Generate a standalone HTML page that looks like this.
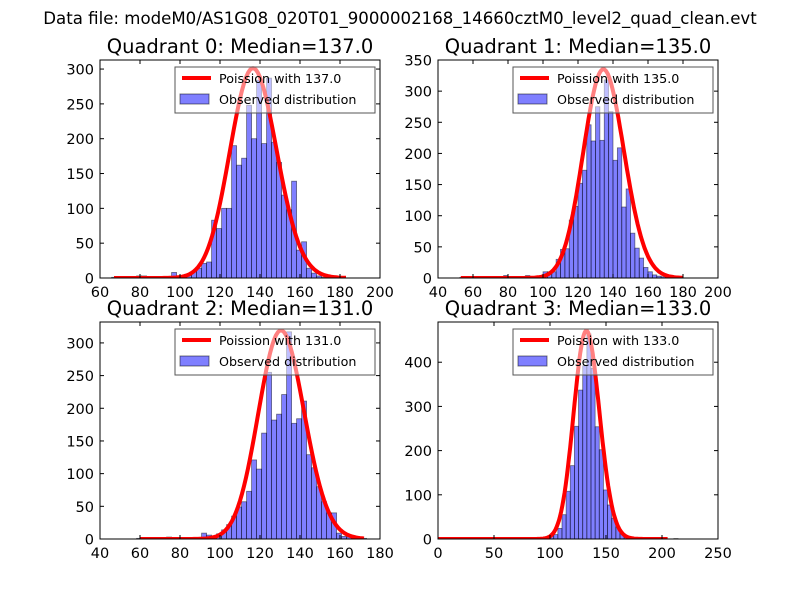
<!DOCTYPE html>
<html><head><meta charset="utf-8"><style>
html,body{margin:0;padding:0;background:#fff;}
svg{display:block;font-family:"DejaVu Sans","Liberation Sans",sans-serif;}
</style></head><body>
<svg id="fig" width="800" height="600" viewBox="0 0 800 600">
<rect width="800" height="600" fill="#fff"/>
<text x="400" y="24" font-size="16.6" text-anchor="middle">Data file: modeM0/AS1G08_020T01_9000002168_14660cztM0_level2_quad_clean.evt</text>
</svg>
<script>
const medians = [137, 135, 131, 133];
const binStarts = [65.8, 52.5, 58.3, 7.1];
const binWidths = [2.5, 2.5, 2.5, 3.7];
const q0Counts = [1,1,2,2,1,3,3,2,1,1,0,0,8,1,2,5, 9,14,21,23,83,71,100,100,190,162,172,248,200,284,193,287,195,166,119,98,139,40,52,14,7,3,1];
const q1Counts = [1,0,0,0,1,0,0,0,1,1,4,1,0,2,0,4,1,2,1,10,10, 10,30,46,47,93,115,152,173,246,220,275,221,318,267,189,209,114,143,72,48,32,17,10,5,3,2,5,1];
const q2Counts = [1,0,0,1,0,1,3,1,2,2,1,2,1,9,6,4,8,14,22, 35,49,57,73,121,107,162,255,182,191,221,317,177,184,211,129,109,80,57,40,40,9,4,3,1,1,1];
const q3Counts = [0,0,0,0,0,0,0,0,0,0,0,0,0,0,0,0,0,0,0,1,1,3,2,2,5,9,10, 24,55,108,166,255,337,392,464,386,254,202,111,77,47,27,13,5,2,1,1,0,0,0,0,0,0,0,0,1];
const curvePeaks = [301, 335, 319, 471];
const curveRanges = [[67,183],[53,180],[60,172],[0,205]];
const xTicks = [[60,80,100,120,140,160,180,200],[40,60,80,100,120,140,160,180,200],[40,60,80,100,120,140,160,180],[0,50,100,150,200,250]];
const yTicks = [[0,50,100,150,200,250,300],[0,50,100,150,200,250,300,350],[0,50,100,150,200,250,300],[0,100,200,300,400]];
const xLims = [[60,200],[40,200],[40,180],[0,250]];
const yLims = [[0,313],[0,350],[0,332],[0,491]];

const allCounts = [q0Counts, q1Counts, q2Counts, q3Counts];
const boxes = [[100,60,380,278],[438,60,718,278],[100,322,380,539],[438,322,718,539]];
const NS = "http://www.w3.org/2000/svg";
const svg = document.getElementById('fig');
function mk(tag, attrs, parent){const e=document.createElementNS(NS,tag);for(const k in attrs)e.setAttribute(k,attrs[k]);(parent||svg).appendChild(e);return e;}
function logFact(n){let s=0;for(let i=2;i<=n;i++)s+=Math.log(i);return s;}
function pmf(k,lam){return Math.exp(k*Math.log(lam)-lam-logFact(k));}

for(let q=0;q<4;q++){
  const [L,T,R,B]=boxes[q];
  const [xa,xb]=xLims[q], [ya,yb]=yLims[q];
  const sx=v=>L+(v-xa)/(xb-xa)*(R-L);
  const sy=v=>B-(v-ya)/(yb-ya)*(B-T);
  const g=mk('g',{});
  
  
  const t=mk('text',{x:(L+R)/2,y:T-7,'font-size':19.5,'text-anchor':'middle'},g);
  t.textContent='Quadrant '+q+': Median='+medians[q].toFixed(1);
  
  
  const clip=mk('clipPath',{id:'c'+q},g);mk('rect',{x:L,y:T,width:R-L,height:B-T},clip);
  const pg=mk('g',{'clip-path':'url(#c'+q+')'},g);
  const counts=allCounts[q];
  counts.forEach((c,i)=>{
    if(c<=0)return;
    const x0=binStarts[q]+i*binWidths[q];
    const r=mk('rect',{x:sx(x0),y:sy(c),width:sx(x0+binWidths[q])-sx(x0),height:sy(0)-sy(c),fill:'rgba(0,0,255,0.5)',stroke:'rgba(0,0,0,0.5)','stroke-width':0.8},pg);
    
    
  });
  const lam=medians[q];const mode=Math.floor(lam);const pm=pmf(mode,lam);
  let d='';
  for(let k=curveRanges[q][0];k<=curveRanges[q][1];k++){
    const v=curvePeaks[q]*pmf(k,lam)/pm;
    d+=(d?'L':'M')+sx(k).toFixed(1)+','+sy(v).toFixed(1);
  }
  const p=mk('path',{d:d,fill:'none',stroke:'#ff0000','stroke-width':4,'stroke-linejoin':'round'},pg);
  
  
  mk('rect',{x:L,y:T,width:R-L,height:B-T,fill:'none',stroke:'#000','stroke-width':1},g);
  xTicks[q].forEach(v=>{
    const x=sx(v);
    mk('line',{x1:x,y1:B,x2:x,y2:B-4,stroke:'#000'},g);
    mk('line',{x1:x,y1:T,x2:x,y2:T+4,stroke:'#000'},g);
    const tl=mk('text',{x:x,y:B+19,'font-size':14.5,'text-anchor':'middle'},g);
    tl.textContent=v;
    
    
  });
  yTicks[q].forEach(v=>{
    const y=sy(v);
    mk('line',{x1:L,y1:y,x2:L+4,y2:y,stroke:'#000'},g);
    mk('line',{x1:R,y1:y,x2:R-4,y2:y,stroke:'#000'},g);
    const tl=mk('text',{x:L-6,y:y+5.5,'font-size':14.5,'text-anchor':'end'},g);
    tl.textContent=v;
    
    
  });
  const lg=mk('g',{},g);
  
  
  const lx=L+75, ly=T+7;
  mk('rect',{x:lx,y:ly,width:200,height:46,fill:'rgba(255,255,255,0.5)',stroke:'#555','stroke-width':1},lg);
  mk('line',{x1:lx+7,y1:ly+11,x2:lx+36,y2:ly+11,stroke:'#ff0000','stroke-width':4},lg);
  const t1=mk('text',{x:lx+44,y:ly+16,'font-size':12.7},lg);
  t1.textContent='Poission with '+medians[q].toFixed(1);
  
  
  mk('rect',{x:lx+5,y:ly+27,width:29,height:10,fill:'rgba(0,0,255,0.5)',stroke:'rgba(0,0,0,0.5)'},lg);
  const t2=mk('text',{x:lx+44,y:ly+37,'font-size':12.7},lg);
  t2.textContent='Observed distribution';
  
  
}
</script>
</body></html>
